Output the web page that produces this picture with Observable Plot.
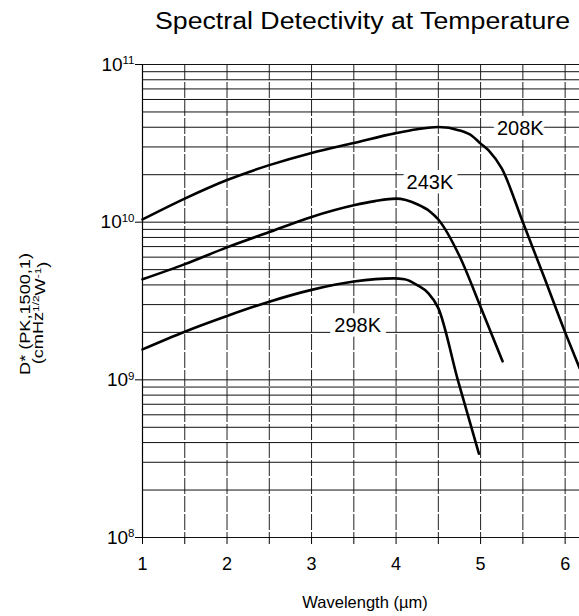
<!DOCTYPE html>
<html>
<head>
<meta charset="utf-8">
<script src="https://cdn.jsdelivr.net/npm/d3@7"></script>
<script src="https://cdn.jsdelivr.net/npm/@observablehq/plot@0.6"></script>
<style>
  html, body { margin: 0; padding: 0; background: #fff; }
  #chart { width: 579px; height: 616px; }
</style>
</head>
<body>
<div id="chart"></div>
<script>
// ---- data ----
const series = ["208K", "243K", "298K"];

const wavelength208 = [1, 1.5, 2, 2.5, 3, 3.5, 4, 4.25, 4.5, 4.75, 4.9, 5, 5.1, 5.25, 5.5, 5.75, 6, 6.17];
const detect208 = [1.04e10, 1.41e10, 1.85e10, 2.30e10, 2.75e10, 3.18e10, 3.67e10, 3.88e10, 4.01e10, 3.82e10, 3.52e10, 3.15e10, 2.83e10, 2.19e10, 1.0e10, 4.5e9, 2.0e9, 1.19e9];

const wavelength243 = [1, 1.5, 2, 2.5, 3, 3.5, 3.75, 4, 4.25, 4.4, 4.5, 4.75, 5, 5.26];
const detect243 = [4.34e9, 5.42e9, 6.92e9, 8.65e9, 1.08e10, 1.28e10, 1.36e10, 1.41e10, 1.30e10, 1.17e10, 1.04e10, 6.1e9, 2.9e9, 1.31e9];

const wavelength298 = [1, 1.5, 2, 2.5, 3, 3.5, 3.97, 4.1, 4.25, 4.38, 4.5, 4.73, 4.98];
const detect298 = [1.56e9, 2.02e9, 2.54e9, 3.13e9, 3.72e9, 4.2e9, 4.4e9, 4.34e9, 3.99e9, 3.55e9, 2.85e9, 1.0e9, 3.4e8];

const labelX = [5.47, 4.40, 3.545];
const labelY = [3.94e10, 1.78e10, 2.21e9];

const xTicks = [1, 1.5, 2, 2.5, 3, 3.5, 4, 4.5, 5, 5.5, 6];
const xLabels = [1, 2, 3, 4, 5, 6];
const yDecades = [1e8, 1e9, 1e10, 1e11];
const yMinor = [1, 2, 3, 4, 5, 6, 7, 8, 9];

const title = "Spectral Detectivity at Temperature";
const xTitle = "Wavelength (\u00b5m)";

// ---- build tables ----
const wl = [wavelength208, wavelength243, wavelength298];
const dv = [detect208, detect243, detect298];
const rows = series.flatMap((s, i) => wl[i].map((w, j) => ({series: s, wavelength: w, D: dv[i][j]})));
const labels = series.map((s, i) => ({text: s, x: labelX[i], y: labelY[i]}));
const yGrid = yDecades.slice(0, -1).flatMap(d => yMinor.map(k => k * d)).concat([yDecades[yDecades.length - 1]]);

const font = "'Liberation Sans', Arial, Helvetica, sans-serif";

const svg = Plot.plot({
  width: 579,
  height: 616,
  marginTop: 64,
  marginBottom: 79,
  marginLeft: 142,
  marginRight: 0,
  style: {fontFamily: font, fontSize: "17px", color: "#000", background: "#fff"},
  x: {domain: [1, 6.17]},
  y: {type: "log", domain: [1e8, 1e11]},
  marks: [
    Plot.ruleX(xTicks, {stroke: "#222", strokeWidth: 1, strokeDasharray: "16,2"}),
    Plot.ruleX([1], {stroke: "#000", strokeWidth: 1.2}),
    Plot.ruleY(yGrid, {stroke: "#111", strokeWidth: 1}),
    Plot.axisX({ticks: xTicks, tickSize: 7, tickPadding: 13, tickFormat: d => Number.isInteger(d) ? String(d) : "", label: null}),
    Plot.axisY({ticks: yDecades, tickSize: 7, tickPadding: 1, tickFormat: d => String(Math.round(Math.log10(d))), label: null}),
    Plot.line(rows, {x: "wavelength", y: "D", z: "series", stroke: "#000", strokeWidth: 2.6, curve: "monotone-x"}),
    Plot.text(labels, {x: "x", y: "y", text: "text", fontSize: 20, fill: "#000", stroke: "#fff", strokeWidth: 10, paintOrder: "stroke"})
  ]
});

const root = d3.select(svg);

// tick label sizes
root.selectAll('g[aria-label="x-axis tick label"] text').style("font-size", "18px");

// superscript exponents on the y tick labels
root.selectAll('g[aria-label="y-axis tick label"] text').each(function() {
  const e = this.textContent;
  const t = d3.select(this);
  t.text("");
  t.style("font-size", "19px");
  t.append("tspan").style("font-size", "19px").text("10");
  t.append("tspan").attr("dy", "-0.55em").style("font-size", "11.5px").text(e);
});

// title
root.append("text")
  .attr("x", 155).attr("y", 29)
  .attr("text-anchor", "start")
  .style("font-family", font).style("font-size", "23px")
  .attr("textLength", 415).attr("lengthAdjust", "spacingAndGlyphs")
  .attr("fill", "#000")
  .text(title);

// x axis title
root.append("text")
  .attr("x", 365).attr("y", 608)
  .attr("text-anchor", "middle")
  .style("font-family", font).style("font-size", "16.5px")
  .attr("fill", "#000")
  .text(xTitle);

// y axis title (two lines, rotated)
const g1 = root.append("g").attr("transform", "translate(30,314) rotate(-90) scale(1.25,1)");
g1.append("text").attr("text-anchor", "middle").style("font-family", font).style("font-size", "14.5px").attr("fill", "#000")
  .text("D* (PK,1500,1)");
const g2 = root.append("g").attr("transform", "translate(43,313) rotate(-90) scale(1.25,1)");
const t2 = g2.append("text").attr("text-anchor", "middle").style("font-family", font).style("font-size", "14.5px").attr("fill", "#000");
t2.append("tspan").text("(cmHz");
t2.append("tspan").attr("dy", "-0.45em").style("font-size", "9.5px").text("1/2");
t2.append("tspan").attr("dy", "0.45em").text("W");
t2.append("tspan").attr("dy", "-0.45em").style("font-size", "9.5px").text("-1");
t2.append("tspan").attr("dy", "0.45em").text(")");

document.getElementById("chart").appendChild(svg);
</script>
</body>
</html>
